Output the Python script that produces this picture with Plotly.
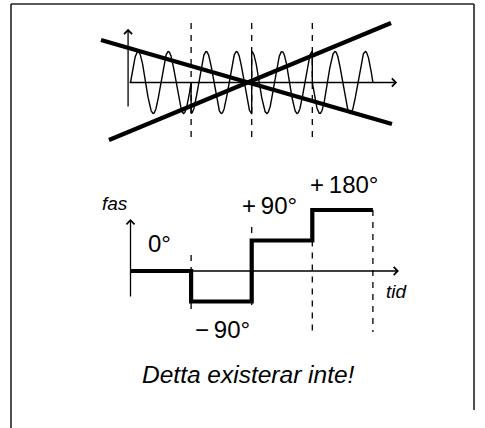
import numpy as np
import plotly.graph_objects as go

# ---- data ----
seg_bounds = [0, 1, 2, 3, 4]                 # time segment boundaries
phase_deg = [0, -90, 90, 180]                # phase in each segment
cycles_per_segment = 2                       # carrier cycles per segment
phase_labels = ["0°", "\u2212\u200990°", "+\u200990°", "+\u2009180°"]
label_t = [0.48, 1.52, 2.29, 3.52]
label_deg = [82.6, -174.0, 194.7, 253.8]
guide_t = [1, 2, 3, 4]
guide_top_deg = [47, 130, 90, 180]
guide_bot_deg = [-124, -103, -180, -180]
top_guide_t = [1, 2, 3]
top_guide_amp = [1.92, -1.92]
cross1_t = [-0.487, 4.315]
cross1_amp = [1.371, -1.339]
cross2_t = [-0.355, 4.299]
cross2_amp = [-1.855, 1.919]

FONT = "Liberation Sans, Arial, Helvetica, sans-serif"
BLACK = "#000000"

fig = go.Figure()

# sine wave with phase jumps
ts, ys = [], []
for k in range(len(phase_deg)):
    t = np.linspace(seg_bounds[k], seg_bounds[k + 1], 400)
    ts.append(t)
    ys.append(np.sin(2 * np.pi * cycles_per_segment * t + np.radians(phase_deg[k])))
fig.add_trace(go.Scatter(x=np.concatenate(ts), y=np.concatenate(ys), mode="lines",
                         line=dict(color=BLACK, width=1.4), xaxis="x", yaxis="y",
                         hoverinfo="skip"))

# top dashed guides
for tg in top_guide_t:
    fig.add_trace(go.Scatter(x=[tg, tg], y=top_guide_amp, mode="lines",
                             line=dict(color=BLACK, width=1.3, dash="6px,6px"),
                             xaxis="x", yaxis="y", hoverinfo="skip"))

# cross-out lines
for cx, cy in [(cross1_t, cross1_amp), (cross2_t, cross2_amp)]:
    fig.add_trace(go.Scatter(x=cx, y=cy, mode="lines", line=dict(color=BLACK, width=4.2),
                             xaxis="x", yaxis="y", hoverinfo="skip"))

# bottom dashed guides
for gt, g0, g1 in zip(guide_t, guide_top_deg, guide_bot_deg):
    fig.add_trace(go.Scatter(x=[gt, gt], y=[g0, g1], mode="lines",
                             line=dict(color=BLACK, width=1.3, dash="6px,6px"),
                             xaxis="x", yaxis="y2", hoverinfo="skip"))

# phase step line
fig.add_trace(go.Scatter(x=seg_bounds, y=phase_deg + [phase_deg[-1]], mode="lines",
                         line=dict(color=BLACK, width=4.2, shape="hv"),
                         xaxis="x", yaxis="y2", hoverinfo="skip"))

# axis arrows
def arrow(x0, y0, x1, y1, yref):
    fig.add_annotation(x=x1, y=y1, ax=x0, ay=y0, xref="x", yref=yref, axref="x", ayref=yref,
                       text="", showarrow=True, arrowhead=4, arrowwidth=1.3, arrowsize=1.2,
                       arrowcolor=BLACK, standoff=0, startstandoff=0)

arrow(-0.04, 0, 4.40, 0, "y")
arrow(-0.04, -0.82, -0.04, 1.73, "y")
arrow(0, 0, 4.43, 0, "y2")
arrow(0, -79.7, 0, 153.4, "y2")

# labels
for txt, lt, ld in zip(phase_labels, label_t, label_deg):
    fig.add_annotation(x=lt, y=ld, xref="x", yref="y2", text=txt, showarrow=False,
                       font=dict(family=FONT, size=24, color=BLACK))
fig.add_annotation(x=-0.25, y=200.6, xref="x", yref="y2", text="fas", showarrow=False,
                   font=dict(family=FONT, size=19, color=BLACK, style="italic"))
fig.add_annotation(x=4.39, y=-59, xref="x", yref="y2", text="tid", showarrow=False,
                   font=dict(family=FONT, size=19, color=BLACK, style="italic"))
fig.add_annotation(x=0.5124, y=1 - 390 / 428, xref="paper", yref="paper",
                   text="Detta existerar inte!", showarrow=False,
                   font=dict(family=FONT, size=24.5, color=BLACK, style="italic"))

# frame
W, H = 485, 428
fx0, fx1, fy1 = 11 / W, 474 / W, 1 - 4 / H
frame = dict(type="line", xref="paper", yref="paper", line=dict(color="#222222", width=1.6))
fig.add_shape(**frame, x0=fx0, y0=0, x1=fx0, y1=fy1)
fig.add_shape(**frame, x0=fx0, y0=fy1, x1=fx1, y1=fy1)
fig.add_shape(**frame, x0=fx1, y0=1 - 410 / H, x1=fx1, y1=fy1)

fig.update_layout(
    width=W, height=H, autosize=False,
    margin=dict(l=0, r=0, t=0, b=0),
    paper_bgcolor="white", plot_bgcolor="white",
    showlegend=False,
    xaxis=dict(visible=False, range=[-130.5 / 60.6, (W - 130.5) / 60.6], fixedrange=True),
    yaxis=dict(visible=False, range=[-(H - 82.5) / 31, 82.5 / 31], domain=[0, 1], fixedrange=True),
    yaxis2=dict(visible=False, range=[-(H - 271) / 0.3389, 271 / 0.3389], overlaying="y",
                fixedrange=True),
)

fig.write_html("out.html", config={"displayModeBar": False},
               post_script="document.body.style.margin='0px';document.body.style.overflow='hidden';")
